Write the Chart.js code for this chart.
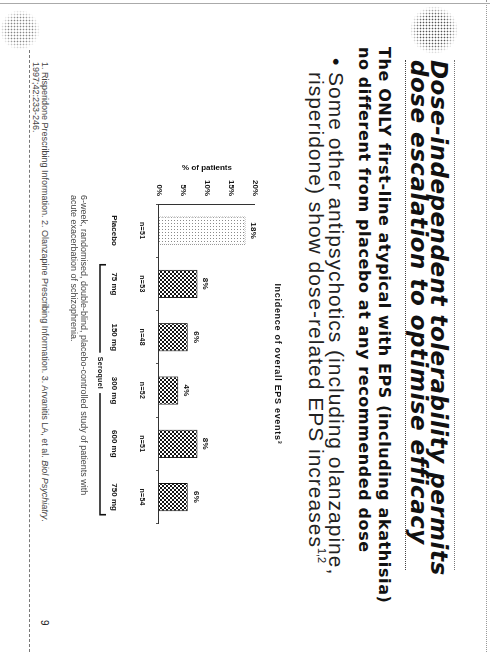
<!DOCTYPE html>
<html>
<head>
<meta charset="utf-8">
<script src="https://cdn.jsdelivr.net/npm/chart.js@4.4.0/dist/chart.umd.min.js"></script>
<style>
  html, body { margin: 0; padding: 0; background: #fff; }
  body { width: 490px; height: 652px; overflow: hidden; position: relative; }
  /* slide is laid out upright, then turned a quarter clockwise onto the page */
  #slide {
    position: absolute; left: 0; top: 0; width: 652px; height: 490px;
    transform-origin: 0 0; transform: translate(490px, 0) rotate(90deg);
    font-family: "Liberation Sans", Arial, sans-serif; color: #111;
  }
  .abs { position: absolute; white-space: nowrap; line-height: 1; }
  .title { font-family: "DejaVu Sans", sans-serif; font-weight: bold; font-style: italic; font-size: 23px; left: 60px; letter-spacing: 0.5px; }
  .lead { font-family: "DejaVu Sans", sans-serif; font-weight: bold; font-size: 16px; letter-spacing: 0.6px; left: 47px; }
  .bullet { font-size: 21px; letter-spacing: 1px; color: #222; left: 72px; }
  .bullet sup { font-size: 11px; vertical-align: 9px; letter-spacing: 0; }
  .note { font-size: 9px; color: #444; }
  .dots {
    position: absolute; border-radius: 50%;
    background-image: radial-gradient(circle, #555 0.7px, transparent 1.1px);
    background-size: 3px 3px;
    -webkit-mask-image: radial-gradient(circle, #000 45%, transparent 72%);
    mask-image: radial-gradient(circle, #000 45%, transparent 72%);
  }
  #chartBox { position: absolute; left: 130px; top: 195px; width: 420px; height: 210px; }
</style>
</head>
<body>
<div id="slide">
  <div class="abs" style="left:0;top:3px;width:652px;border-top:1px dotted #999;"></div>
  <div class="abs" style="left:3px;top:0;height:490px;border-left:1px solid #aaa;"></div>

  <div class="dots" style="left:6px;top:32px;width:48px;height:48px;"></div>
  <div class="abs" style="left:60px;top:35px;width:510px;border-top:1px dotted #777;"></div>
  <div class="abs title" style="top:40px;">Dose-independent tolerability permits</div>
  <div class="abs title" style="top:60px;">dose escalation to optimise efficacy</div>
  <div class="abs" style="left:60px;top:84px;width:510px;border-top:1px dotted #444;"></div>

  <div class="abs lead" style="top:98px;">The ONLY first-line atypical with EPS (including akathisia)</div>
  <div class="abs lead" style="top:118px;">no different from placebo at any recommended dose</div>

  <div class="abs" style="left:58px;top:143px;font-size:21px;">&bull;</div>
  <div class="abs bullet" style="top:143px;">Some other antipsychotics (including olanzapine,</div>
  <div class="abs bullet" style="top:163px;">risperidone) show dose-related EPS increases<sup>1,2</sup></div>

  <div id="chartBox"><canvas id="epsChart" width="420" height="210"></canvas></div>

  <div class="abs note" style="left:195px;top:402px;">6-week, randomised, double-blind, placebo-controlled study of patients with</div>
  <div class="abs note" style="left:195px;top:412px;">acute exacerbation of schizophrenia.</div>

  <div class="abs note" style="left:62px;top:441px;">1. Risperidone Prescribing Information. 2. Olanzapine Prescribing Information. 3. Arvanitis LA, et al. <i>Biol Psychiatry</i>.</div>
  <div class="abs note" style="left:62px;top:450px;">1997;42:233-246.</div>
  <div class="abs note" style="left:620px;top:441px;font-size:10px;color:#222;">9</div>

  <div class="abs" style="left:50px;top:460px;width:602px;border-top:1px dashed #777;"></div>
  <div class="dots" style="left:10px;top:450px;width:40px;height:40px;opacity:0.7;"></div>
</div>

<script>
// Incidence of overall EPS events by treatment arm
const doseLabels = ['Placebo', '75 mg', '150 mg', '300 mg', '600 mg', '750 mg'];
const epsPercent = [18, 8, 6, 4, 8, 6];
const patientCounts = ['n=51', 'n=53', 'n=48', 'n=52', 'n=51', 'n=54'];
const yTicks = [0, 5, 10, 15, 20];
const chartTitle = 'Incidence of overall EPS events³';
const bracketLabel = 'Seroquel';
const bracketFrom = 1;
const bracketTo = 5;

const FONT = '"Liberation Sans", Arial, sans-serif';

const canvas = document.getElementById('epsChart');
const ctx = canvas.getContext('2d');

// small tiles used as halftone fills
function makePattern(size, bg, fg, cells) {
  const tile = document.createElement('canvas');
  tile.width = tile.height = size;
  const g = tile.getContext('2d');
  g.fillStyle = bg;
  g.fillRect(0, 0, size, size);
  g.fillStyle = fg;
  cells.forEach(([cx, cy]) => g.fillRect(cx, cy, 1, 1));
  return ctx.createPattern(tile, 'repeat');
}

const lightDots = makePattern(3, '#fff', '#8a8a8a', [[0, 0]]);
const crossHatch = makePattern(4, '#fff', '#151515',
  [[0, 0], [1, 1], [2, 2], [3, 3], [3, 0], [2, 1], [1, 2], [0, 3]]);
const dottedEdge = makePattern(2, '#fff', '#555', [[0, 0], [1, 1]]);

const barAnnotations = {
  id: 'barAnnotations',
  afterDatasetsDraw(chart) {
    const { ctx, chartArea, scales: { x } } = chart;
    const meta = chart.getDatasetMeta(0);
    ctx.save();
    ctx.fillStyle = '#111';
    ctx.textAlign = 'center';
    ctx.textBaseline = 'middle';

    // heading over the plot, letter-spaced like the slide print
    ctx.font = 'bold 9px ' + FONT;
    ctx.letterSpacing = '0.7px';
    ctx.fillText(chartTitle, (chartArea.left + chartArea.right) / 2, chartArea.top - 22);

    ctx.letterSpacing = '0.3px';
    meta.data.forEach((bar, i) => {
      ctx.font = 'bold 8px ' + FONT;
      ctx.fillText(epsPercent[i] + '%', bar.x, bar.y - 8);
      ctx.font = 'bold 7px ' + FONT;
      ctx.fillText(patientCounts[i], bar.x, chartArea.bottom + 17);
    });

    // bracket grouping the active doses
    const step = x.getPixelForValue(1) - x.getPixelForValue(0);
    const y = chartArea.bottom + 59;
    const x0 = x.getPixelForValue(bracketFrom) - step * 0.36;
    const x1 = x.getPixelForValue(bracketTo) + step * 0.33;
    const mid = (x.getPixelForValue(2) + x.getPixelForValue(3)) / 2 + 9;
    ctx.font = 'bold 7px ' + FONT;
    const half = ctx.measureText(bracketLabel).width / 2 + 4;
    ctx.strokeStyle = '#111';
    ctx.lineWidth = 1.6;
    ctx.beginPath();
    ctx.moveTo(x0, y - 6);
    ctx.lineTo(x0, y);
    ctx.lineTo(mid - half, y);
    ctx.moveTo(mid + half, y);
    ctx.lineTo(x1, y);
    ctx.lineTo(x1, y - 6);
    ctx.stroke();
    ctx.fillText(bracketLabel, mid, y);
    ctx.restore();
  }
};

new Chart(ctx, {
  type: 'bar',
  data: {
    labels: doseLabels,
    datasets: [{
      data: epsPercent,
      backgroundColor: epsPercent.map((v, i) => i === 0 ? lightDots : crossHatch),
      borderColor: epsPercent.map((v, i) => i === 0 ? dottedEdge : '#111'),
      borderWidth: 1,
      borderSkipped: 'bottom',
      barPercentage: 0.53,
      categoryPercentage: 1
    }]
  },
  options: {
    responsive: false,
    animation: false,
    devicePixelRatio: 1,
    layout: { padding: { top: 40, right: 25 } },
    plugins: {
      legend: { display: false },
      tooltip: { enabled: false },
      title: { display: false }
    },
    scales: {
      x: {
        afterFit(scale) { scale.height = 74; },
        border: { display: true, color: '#333', dash: [1, 2] },
        grid: { display: true, drawOnChartArea: false, drawTicks: true, tickLength: 3, color: '#555' },
        ticks: { color: '#111', font: { family: FONT, size: 8, weight: 'bold' }, padding: 37 }
      },
      y: {
        min: yTicks[0],
        max: yTicks[yTicks.length - 1],
        afterFit(scale) { scale.width = 74; },
        afterBuildTicks(scale) { scale.ticks = yTicks.map(v => ({ value: v })); },
        border: { display: true, color: '#333', dash: [1, 2] },
        grid: { display: false, drawTicks: false },
        ticks: {
          color: '#111',
          font: { family: FONT, size: 8, weight: 'bold' },
          padding: 8,
          callback: v => v + '%'
        },
        title: {
          display: true,
          text: '% of patients',
          color: '#111',
          font: { family: FONT, size: 8, weight: 'bold' },
          padding: { top: 33, bottom: 0 }
        }
      }
    }
  },
  plugins: [barAnnotations]
});
</script>
</body>
</html>
